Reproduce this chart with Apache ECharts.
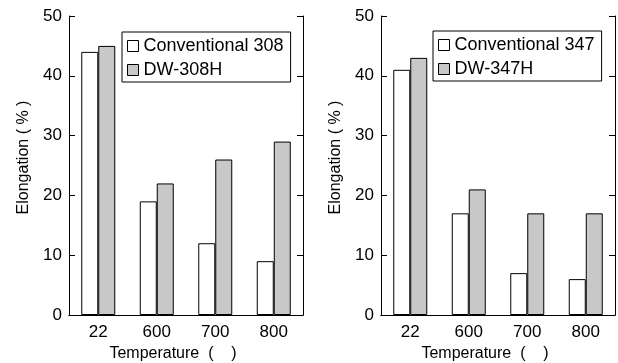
<!DOCTYPE html>
<html>
<head>
<meta charset="utf-8">
<script src="https://cdn.jsdelivr.net/npm/echarts@6/dist/echarts.min.js"></script>
<style>
  html, body { margin: 0; padding: 0; background: #fff; }
  #main { width: 618px; height: 363px; }
</style>
</head>
<body>
<div id="main"></div>
<script>
// data
var temps = ['22', '600', '700', '800'];
var conv308 = [44, 19, 12, 9];
var dw308 = [45, 22, 26, 29];
var conv347 = [41, 17, 7, 6];
var dw347 = [43, 21, 17, 17];
var yTicks = [0, 50, 10]; // min, max, step

var FONT = 'Liberation Sans';

function bottomX(grid) {
    return {
        type: 'category', gridIndex: grid, data: temps, position: 'bottom',
        axisLine: {lineStyle: {color: '#000', width: 1}},
        axisTick: {inside: true, length: 6, lineStyle: {color: '#000'}},
        axisLabel: {color: '#000', fontFamily: FONT, fontSize: 17, margin: 9},
        name: 'Temperature  (    )', nameLocation: 'middle', nameGap: 28,
        nameTextStyle: {color: '#000', fontFamily: FONT, fontSize: 16,
            verticalAlign: 'top', padding: [0, 26, 0, 0]}
    };
}
function topX(grid) {
    return {
        type: 'category', gridIndex: grid, data: temps, position: 'top',
        axisLine: {lineStyle: {color: '#000', width: 1}},
        axisTick: {inside: true, length: 6, lineStyle: {color: '#000'}},
        axisLabel: {show: false}
    };
}
function leftY(grid) {
    return {
        type: 'value', gridIndex: grid, position: 'left',
        min: yTicks[0], max: yTicks[1], interval: yTicks[2],
        axisLine: {show: true, lineStyle: {color: '#000', width: 1}},
        axisTick: {show: true, inside: true, length: 6, lineStyle: {color: '#000'}},
        axisLabel: {color: '#000', fontFamily: FONT, fontSize: 17, margin: 7},
        splitLine: {show: false},
        name: 'Elongation ( % )', nameLocation: 'middle', nameGap: 37,
        nameTextStyle: {color: '#000', fontFamily: FONT, fontSize: 16, padding: [0, 0, 0, 16]}
    };
}
function rightY(grid) {
    return {
        type: 'value', gridIndex: grid, position: 'right',
        min: yTicks[0], max: yTicks[1], interval: yTicks[2],
        axisLine: {show: true, lineStyle: {color: '#000', width: 1}},
        axisTick: {show: true, inside: true, length: 6, lineStyle: {color: '#000'}},
        axisLabel: {show: false},
        splitLine: {show: false}
    };
}
function barSeries(name, data, xi, yi, color) {
    return {
        name: name, type: 'bar', xAxisIndex: xi, yAxisIndex: yi, data: data,
        barWidth: 17, barGap: '0%',
        itemStyle: {color: color, borderColor: '#000', borderWidth: 1}
    };
}
function legendBox(names, left, top) {
    return {
        data: names, orient: 'vertical', left: left, top: top,
        icon: 'rect', itemWidth: 11, itemHeight: 11, itemGap: 6,
        padding: [5, 7, 3, 5],
        borderColor: '#000', borderWidth: 1, backgroundColor: '#fff',
        itemStyle: {borderColor: '#000', borderWidth: 1},
        textStyle: {color: '#000', fontFamily: FONT, fontSize: 18},
        selectedMode: false
    };
}

var myChart = echarts.init(document.getElementById('main'));
var option = {
    animation: false,
    backgroundColor: '#fff',
    grid: [
        {left: 69, right: 315, top: 16, bottom: 48, outerBoundsMode: 'none'},
        {left: 381, right: 3, top: 16, bottom: 48, outerBoundsMode: 'none'}
    ],
    xAxis: [bottomX(0), topX(0), bottomX(1), topX(1)],
    yAxis: [leftY(0), rightY(0), leftY(1), rightY(1)],
    legend: [
        legendBox(['Conventional 308', 'DW-308H'], 122, 32),
        legendBox(['Conventional 347', 'DW-347H'], 433, 31)
    ],
    series: [
        barSeries('Conventional 308', conv308, 0, 0, '#ffffff'),
        barSeries('DW-308H', dw308, 0, 0, '#c8c8c8'),
        barSeries('Conventional 347', conv347, 2, 2, '#ffffff'),
        barSeries('DW-347H', dw347, 2, 2, '#c8c8c8')
    ]
};
myChart.setOption(option);
</script>
</body>
</html>
